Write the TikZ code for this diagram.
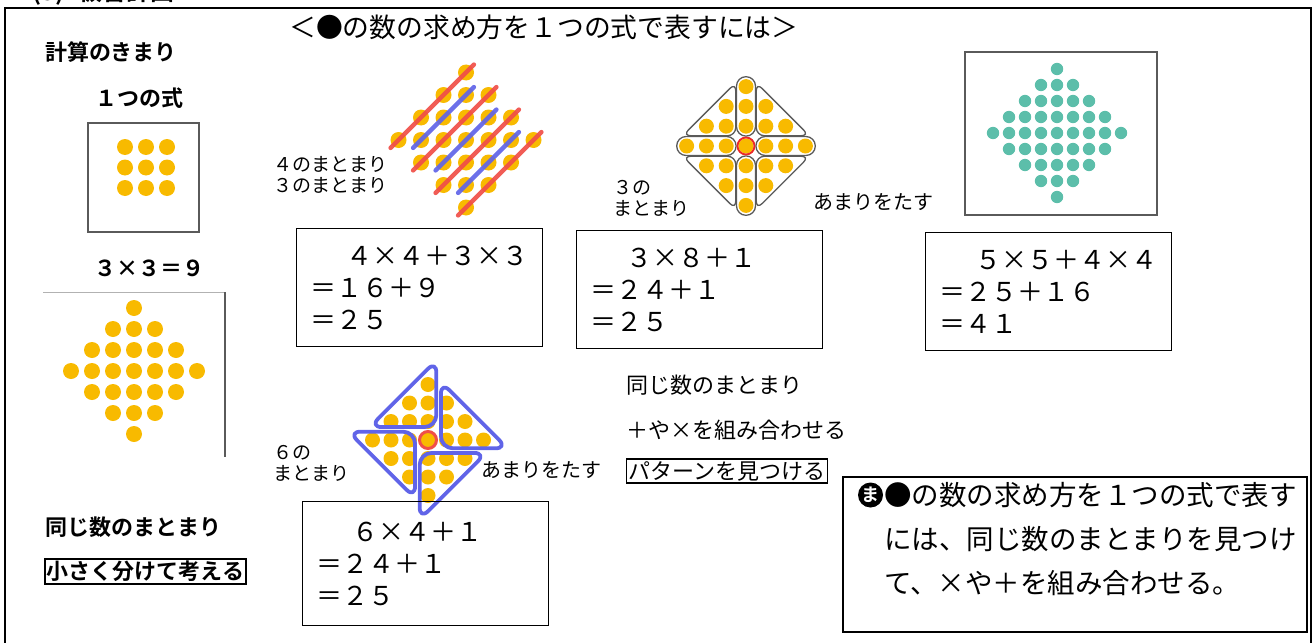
\documentclass[tikz,border=0pt]{standalone}
\usepackage{fontspec}
\setmainfont{Noto Sans CJK JP}[BoldFont={Noto Sans CJK JP Bold}]
\definecolor{dotyellow}{RGB}{248, 186, 0}
\definecolor{dotteal}{RGB}{92, 190, 170}
\definecolor{markred}{RGB}{240, 78, 72}
\definecolor{markblue}{RGB}{96, 100, 232}
\definecolor{ringred}{RGB}{235, 40, 40}
\definecolor{framegray}{RGB}{90, 90, 90}
\usetikzlibrary{positioning}

% diamond of dots: centre x, centre y, spacing, radius, half size, colour
\newcommand{\dotdiamond}[6]{%
  \foreach \dj in {-#5,...,#5}{%
    \pgfmathtruncatemacro{\dw}{#5-abs(\dj)}%
    \foreach \di in {-\dw,...,\dw}
      \fill[#6] ({#1+\di*#3},{#2+\dj*#3}) circle (#4);
  }}

\begin{document}
\begin{tikzpicture}[x=1pt, y=-1pt,
  eqbox/.style={draw, line width=1pt, anchor=north west, minimum width=246pt, minimum height=118pt,
    inner xsep=14pt, text width=218pt, align=left, font=\fontsize{26}{32}\selectfont},
  note/.style={anchor=west, align=left, inner sep=0pt, font=\fontsize{19}{21}\selectfont},
  gothic/.style={anchor=west, inner sep=0pt, font=\fontsize{22}{24}\selectfont\bfseries},
  midtext/.style={anchor=west, inner sep=0pt, font=\fontsize{22}{24}\selectfont},
  redline/.style={markred, line width=4.5pt, line cap=round, opacity=0.92},
  blueline/.style={markblue, line width=4.5pt, line cap=round, opacity=0.92},
  groupline/.style={draw=framegray, fill=white, line width=1.3pt},
  windline/.style={markblue, line width=3.8pt, line join=round, rounded corners=12pt}]
  \useasboundingbox (0,0) rectangle (1316,642);

  % Outer frame and heading
  \draw[line width=1.4pt] (5,8) rectangle (1311,660);
  \node[anchor=base west, inner sep=0pt, font=\fontsize{24}{26}\selectfont\bfseries] (heading) at (32,1) {(5)\hspace{14pt}板書計画};
  \node[anchor=west, inner sep=0pt, font=\fontsize{26.8}{28}\selectfont] (title) at (289,27) {＜●の数の求め方を１つの式で表すには＞};

  % Left column
  \node[gothic] (rule) at (45,52) {計算のきまり};
  \node[gothic] (oneexpr) at (95,98) {１つの式};
  \draw[framegray, line width=1.2pt] (88,123) rectangle (199,232);
  \foreach \r in {0,1,2}
    \foreach \c in {0,1,2}
      \fill[dotyellow] ({125+\c*21},{147+\r*20.5}) circle (8);
  \node[gothic] (nine) at (94,268) {３×３＝９};
  \draw[gray!60, line width=1pt] (43,292) -- (225,292);
  \draw[framegray, line width=1.4pt] (225,292) -- (225,457);
  \dotdiamond{134}{371}{21}{8}{3}{dotyellow}
  \node[gothic] (samegroup) at (45,527) {同じ数のまとまり};
  \node[draw, line width=1.4pt, inner sep=2pt, font=\fontsize{22}{24}\selectfont\bfseries] (split) at (145.5,571.5) {小さく分けて考える};

  % 4x4 + 3x3 grouping
  \dotdiamond{466}{140}{22.5}{8}{3}{dotyellow}
  \foreach \k in {-3,-1,1,3}
    \draw[redline] ({466+(\k/2-1.85)*22.5},{140-(\k/2-1.85-\k)*22.5}) -- ({466+(\k/2+1.85)*22.5},{140-(\k/2+1.85-\k)*22.5});
  \foreach \k in {-2,0,2}
    \draw[blueline] ({466+(\k/2-1.35)*22.5},{140-(\k/2-1.35-\k)*22.5}) -- ({466+(\k/2+1.35)*22.5},{140-(\k/2+1.35-\k)*22.5});
  \node[note] (fourthree) at (273,175) {４のまとまり\\３のまとまり};
  \node[eqbox] (eqA) at (296,228) {\hspace*{1.4em}４×４＋３×３\\＝１６＋９\\＝２５};

  % 3x8 + 1 grouping
  \begin{scope}[shift={(746,146)}, x=19.8pt, y=19.8pt]
    \foreach \a in {0,90,180,270}{
      \draw[groupline, rotate=\a, rounded corners=9.4pt] (-0.48,0.5) rectangle (0.48,3.5);
      \draw[groupline, rotate=\a, rounded corners=8pt] (-0.52,0.52) -- (-3.2,0.52) -- (-0.52,3.2) -- cycle;
    }
  \end{scope}
  \dotdiamond{746}{146}{19.8}{7.5}{3}{dotyellow}
  \draw[ringred, line width=1.8pt] (746,146) circle (8.5);
  \node[note] (three) at (613,198) {３の\\まとまり};
  \node[note, font=\fontsize{20}{22}\selectfont] (restA) at (813,202) {あまりをたす};
  \node[eqbox] (eqB) at (576,230) {\hspace*{1.4em}３×８＋１\\＝２４＋１\\＝２５};

  % 5x5 + 4x4 pattern
  \draw[framegray, line width=1.5pt] (965,52) rectangle (1157,215);
  \dotdiamond{1057}{133}{16}{6.2}{4}{dotteal}
  \node[eqbox] (eqC) at (925,232) {\hspace*{1.4em}５×５＋４×４\\＝２５＋１６\\＝４１};

  % 6x4 + 1 pinwheel
  \dotdiamond{428}{440}{18.5}{7.5}{3}{dotyellow}
  \begin{scope}[shift={(428,440)}, x=18.5pt, y=18.5pt]
    \foreach \a in {0,90,180,270}
      \draw[windline, rotate=\a] (0.45,0.7) -- (0.45,4.3) -- (-3.15,0.7) -- cycle;
  \end{scope}
  \draw[markred, line width=3pt] (428,440) circle (8.5);
  \node[note] (six) at (273,463) {６の\\まとまり};
  \node[note, font=\fontsize{20}{22}\selectfont] (restB) at (481,470) {あまりをたす};
  \node[eqbox, minimum height=124pt] (eqD) at (302,501) {\hspace*{1.4em}６×４＋１\\＝２４＋１\\＝２５};

  % Middle notes
  \node[midtext] (samenum) at (626,385) {同じ数のまとまり};
  \node[midtext] (combine) at (626,430) {＋や×を組み合わせる};
  \node[draw, line width=1.4pt, inner sep=2pt, font=\fontsize{22}{24}\selectfont] (pattern) at (727,471) {パターンを見つける};

  % Summary
  \draw[line width=1.4pt] (843,477) rectangle (1307,632);
  \node[circle, fill=black, text=white, inner sep=0pt, minimum size=25pt, font=\fontsize{18}{18}\selectfont\bfseries] (ma) at (870.5,495) {ま};
  \node[anchor=west, align=left, inner sep=0pt, font=\fontsize{27.5}{44}\selectfont] (summary) at (884,539)
    {●の数の求め方を１つの式で表す\\には、同じ数のまとまりを見つけ\\て、×や＋を組み合わせる。};
\end{tikzpicture}
\end{document}
